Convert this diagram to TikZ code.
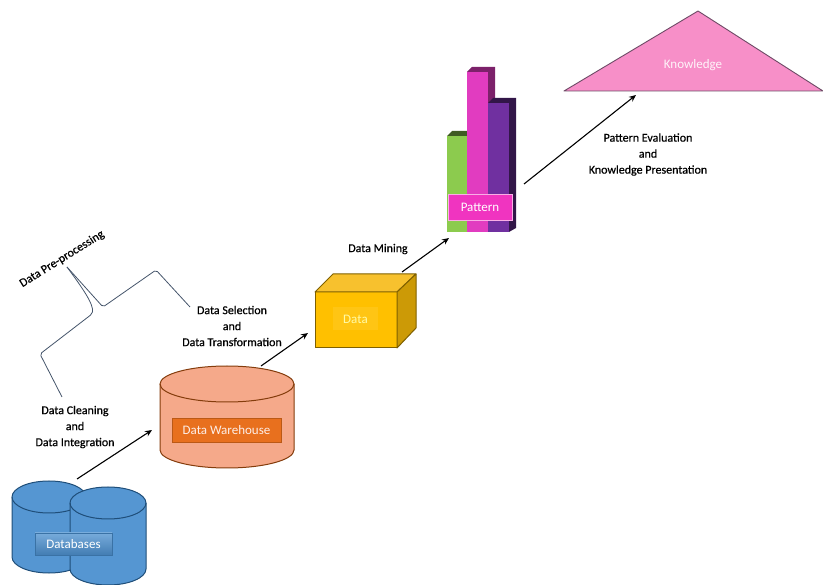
\documentclass[tikz,border=0pt]{standalone}
\usepackage{fontspec}
\setmainfont{Carlito}
\newfontfamily\semib[FakeBold=0.6]{Carlito}
\usetikzlibrary{arrows.meta}
\definecolor{dbblue}{HTML}{5596D2}
\definecolor{dbline}{HTML}{1F4E79}
\definecolor{whfill}{HTML}{F5A98A}
\definecolor{whline}{HTML}{843C0C}
\definecolor{whlabel}{HTML}{E8701E}
\definecolor{boxfront}{HTML}{FFC000}
\definecolor{boxtop}{HTML}{F7C12E}
\definecolor{boxside}{HTML}{CC9A06}
\definecolor{boxline}{HTML}{7F6000}
\definecolor{barGreen}{HTML}{8CCB4E}
\definecolor{barMag}{HTML}{E13CC0}
\definecolor{barPur}{HTML}{7030A0}
\definecolor{patlabel}{HTML}{F034C0}
\definecolor{tripink}{HTML}{F78FC8}
\definecolor{triline}{HTML}{6E4A66}
\definecolor{curly}{HTML}{44546A}
\tikzset{
  txt/.style={font=\fontsize{12}{16}\addfontfeatures{FakeBold=0.6}\selectfont, text=black, align=center, inner sep=0pt},
  lab/.style={font=\fontsize{13}{15}\selectfont, inner sep=0pt, align=center},
  flow/.style={draw=black, line width=1.1pt, -{Stealth[length=7pt,width=6pt]}},
  brace/.style={draw=curly, line width=0.8pt, rounded corners=2pt},
  dbshape/.style={draw=dbline, fill=dbblue, line width=1pt},
  whshape/.style={draw=whline, fill=whfill, line width=1pt},
  boxshape/.style={draw=boxline, line width=1pt, line join=round}
}
\begin{document}
\begin{tikzpicture}[x=1pt,y=-1pt]
\useasboundingbox (0,0) rectangle (823,585);
% Databases
\draw[dbshape] (12,497) -- (12,557) arc[start angle=180,end angle=0,x radius=37,y radius=16] -- (86,497) arc[start angle=0,end angle=-180,x radius=37,y radius=16] -- cycle;
\draw[draw=dbline,line width=1pt] (12,497) arc[start angle=180,end angle=0,x radius=37,y radius=16];
\draw[dbshape] (70,503) -- (70,569) arc[start angle=180,end angle=0,x radius=38,y radius=16] -- (146,503) arc[start angle=0,end angle=-180,x radius=38,y radius=16] -- cycle;
\draw[draw=dbline,line width=1pt] (70,503) arc[start angle=180,end angle=0,x radius=38,y radius=16];
\node[lab,minimum width=77pt,minimum height=22pt,top color=dbblue!80!white,bottom color=dbline!35!dbblue,text=white,draw=dbline!50!dbblue,line width=.4pt] (databases) at (73.5,544) {Databases};
% Warehouse
\draw[whshape] (160,384) -- (160,450) arc[start angle=180,end angle=0,x radius=67,y radius=18] -- (294,384) arc[start angle=0,end angle=-180,x radius=67,y radius=18] -- cycle;
\draw[draw=whline,line width=1pt] (160,384) arc[start angle=180,end angle=0,x radius=67,y radius=18];
\node[lab,minimum width=109pt,minimum height=24pt,fill=whlabel,draw=whline!45!whlabel,line width=.4pt,text=white!80!whfill] (warehouse) at (226.5,430) {Data Warehouse};
% Data box
\draw[boxshape,fill=boxfront] (315,292) rectangle (397,348);
\draw[boxshape,fill=boxtop] (315,292) -- (333,274) -- (416,274) -- (397,292) -- cycle;
\draw[boxshape,fill=boxside] (397,292) -- (416,274) -- (416,328) -- (397,348) -- cycle;
\node[lab,minimum width=45pt,minimum height=23pt,fill=boxfront!92!white,text=yellow!35!white] (data) at (355.5,319) {Data};
% Pattern bars
\fill[barGreen!45!black] (447,136) -- (452,131) -- (467,131) -- (467,136) -- cycle;
\fill[barGreen] (447,136) rectangle (467,232);
\fill[barMag!55!black] (467,72) -- (472,67) -- (495,67) -- (495,103) -- (488,103) -- (488,72) -- cycle;
\fill[barMag] (467,72) rectangle (488,232);
\fill[barPur!45!black] (488,103) -- (493,98) -- (516,98) -- (516,228) -- (509,232) -- (509,103) -- cycle;
\fill[barPur] (488,103) rectangle (509,232);
\node[lab,minimum width=64pt,minimum height=26pt,fill=patlabel,draw=white!60!patlabel,line width=.5pt,text=white] (pattern) at (480,207) {Pattern};
% Knowledge triangle
\draw[fill=tripink,draw=triline,line width=.9pt,line join=round] (698,11) -- (823,91) -- (564,91) -- cycle;
\node[lab,text=white!90!tripink] (knowledge) at (693,65) {Knowledge};
% Text labels
\node[txt] (dclean) at (75,427) {Data Cleaning\\and\\Data Integration};
\node[txt] (dsel) at (232,326) {Data Selection\\and\\Data Transformation};
\node[txt] (dmine) at (378,249) {Data Mining};
\node[txt] (pateval) at (648,154.5) {Pattern Evaluation\\and\\Knowledge Presentation};
\node[txt,rotate=32] (prep) at (62,259) {Data Pre-processing};
% Connector ends
\coordinate (a1s) at (77,479); \coordinate (a1e) at (152,430);
\coordinate (a2s) at (261,366); \coordinate (a2e) at (308,333);
\coordinate (a3s) at (402,272); \coordinate (a3e) at (449,238);
\coordinate (a4s) at (524,184); \coordinate (a4e) at (636,95);
\draw[flow] (a1s) -- (a1e);
\draw[flow] (a2s) -- (a2e);
\draw[flow] (a3s) -- (a3e);
\draw[flow] (a4s) -- (a4e);
% Brace
\coordinate (b0) at (67,267); \coordinate (b1) at (92,314); \coordinate (b2) at (40,354); \coordinate (b3) at (62,397);
\coordinate (c1) at (103,307); \coordinate (c2) at (156,270); \coordinate (c3) at (190,307);
\draw[brace] (b3) -- (b2) -- (b1) .. controls (94,305) and (84,290) .. (b0);
\draw[brace] (b0) -- (c1) -- (c2) -- (c3);
\end{tikzpicture}
\end{document}
